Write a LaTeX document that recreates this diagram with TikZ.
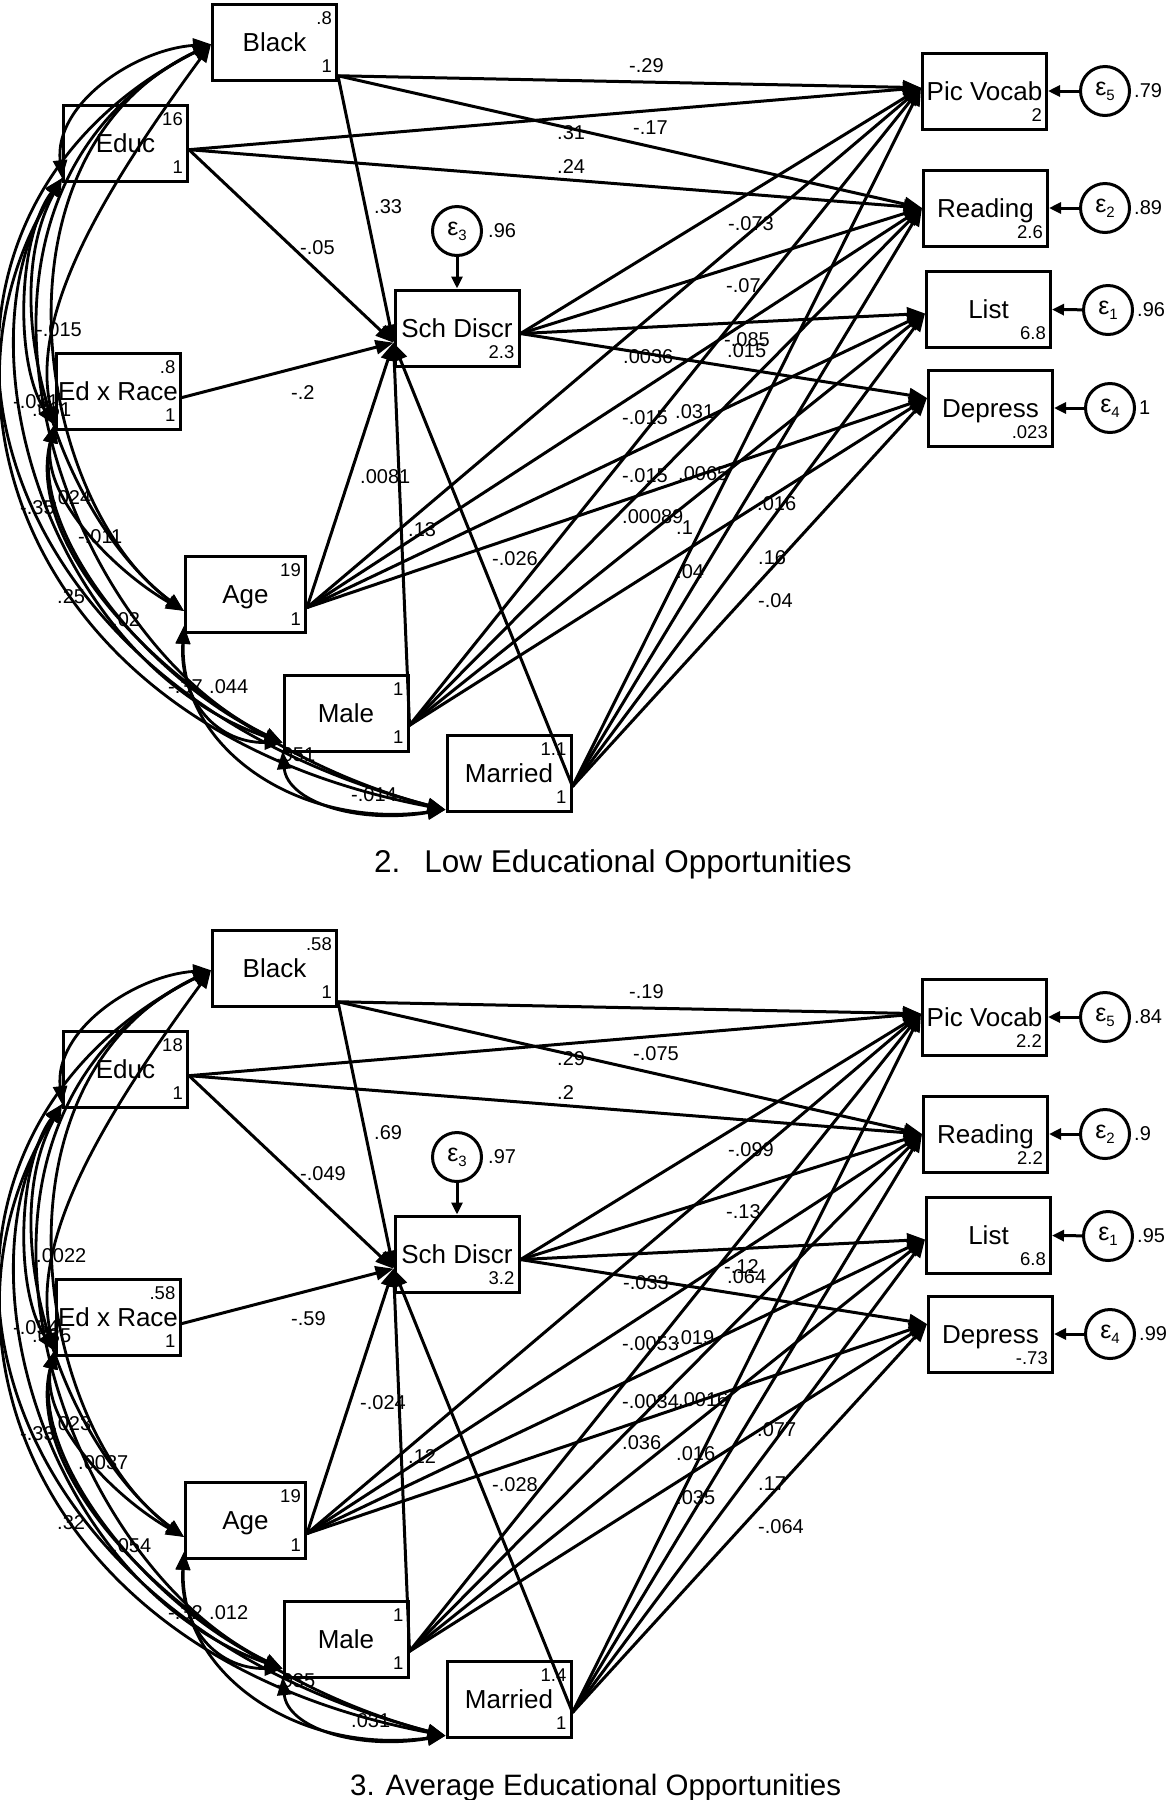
\documentclass[tikz,border=0pt]{standalone}
\usepackage{fontspec}
\setmainfont{Liberation Sans}
\usetikzlibrary{arrows.meta}
\tikzset{
  box/.style={draw, line width=3pt, minimum width=124pt, minimum height=76pt, inner sep=0pt,
    text height=18.6pt, text depth=0pt, font=\fontsize{26}{28}\selectfont},
  errc/.style={draw, circle, line width=3pt, minimum size=49pt, inner sep=0pt, font=\fontsize{25}{28}\selectfont},
  num/.style={font=\fontsize{18.5}{20}\selectfont, inner sep=0pt},
  lbl/.style={font=\fontsize{20}{22}\selectfont, inner sep=0pt, anchor=west},
  pth/.style={line width=3pt, -{Triangle[length=18pt,width=14pt]}},
  earr/.style={line width=3pt, -{Triangle[length=12pt,width=11pt]}},
  cov/.style={line width=2.8pt, {Triangle[length=18pt,width=14pt]}-{Triangle[length=18pt,width=14pt]}},
}
\newcommand\pick[2]{\ifnum\pnl=1 #1\else #2\fi}
\newcommand\epsl[1]{ε\raisebox{-5pt}{\fontsize{15}{15}\selectfont #1}}
\newcommand\tnum[2]{\node[num,anchor=east] (#1-tr) at ([xshift=-6pt,yshift=-15.5pt]#1.north east) {#2};}
\newcommand\bnum[2]{\node[num,anchor=east] (#1-br) at ([xshift=-6pt,yshift=15pt]#1.south east) {#2};}
\newcommand\drawpanel{%
  % boxes
  \node[box] (black\pnl) at (274.5,42) {Black};
  \node[box] (educ\pnl) at (125.5,143) {Educ};
  \node[box] (edx\pnl) at (118,391) {Ed x Race};
  \node[box] (sd\pnl) at (457,328) {Sch Discr};
  \node[box, minimum width=120pt] (age\pnl) at (245.5,594.5) {Age};
  \node[box] (male\pnl) at (346,713) {Male};
  \node[box] (married\pnl) at (509,773) {Married};
  \node[box] (pv\pnl) at (984.5,91) {Pic Vocab};
  \node[box] (rd\pnl) at (985.5,208) {Reading};
  \node[box] (list\pnl) at (988.5,309) {List};
  \node[box] (dep\pnl) at (990.5,408) {Depress};
  % error terms
  \node[errc] (ethree\pnl) at (457,231) {\epsl{3}};
  \node[errc] (efive\pnl) at (1105,91) {\epsl{5}};
  \node[errc] (etwo\pnl) at (1105,208) {\epsl{2}};
  \node[errc] (eone\pnl) at (1108,310) {\epsl{1}};
  \node[errc] (efour\pnl) at (1110,408) {\epsl{4}};
  \node[lbl,anchor=west] (ethree\pnl-v) at ([xshift=5pt]ethree\pnl.east) {\pick{.96}{.97}};
  \node[lbl,anchor=west] (efive\pnl-v) at ([xshift=3pt]efive\pnl.east) {\pick{.79}{.84}};
  \node[lbl,anchor=west] (etwo\pnl-v) at ([xshift=3pt]etwo\pnl.east) {\pick{.89}{.9}};
  \node[lbl,anchor=west] (eone\pnl-v) at ([xshift=3pt]eone\pnl.east) {\pick{.96}{.95}};
  \node[lbl,anchor=west] (efour\pnl-v) at ([xshift=3pt]efour\pnl.east) {\pick{1}{.99}};
  % corner numbers
  \tnum{black\pnl}{\pick{.8}{.58}}\bnum{black\pnl}{1}
  \tnum{educ\pnl}{\pick{16}{18}}\bnum{educ\pnl}{1}
  \tnum{edx\pnl}{\pick{.8}{.58}}\bnum{edx\pnl}{1}
  \tnum{age\pnl}{19}\bnum{age\pnl}{1}
  \tnum{male\pnl}{1}\bnum{male\pnl}{1}
  \tnum{married\pnl}{\pick{1.1}{1.4}}\bnum{married\pnl}{1}
  \bnum{sd\pnl}{\pick{2.3}{3.2}}
  \bnum{pv\pnl}{\pick{2}{2.2}}
  \bnum{rd\pnl}{\pick{2.6}{2.2}}
  \bnum{list\pnl}{6.8}
  \bnum{dep\pnl}{\pick{.023}{-.73}}
  % error arrows
  \draw[earr] (ethree\pnl) -- (sd\pnl);
  \draw[earr] (efive\pnl) -- (pv\pnl);
  \draw[earr] (etwo\pnl) -- (rd\pnl);
  \draw[earr] (eone\pnl) -- (list\pnl);
  \draw[earr] (efour\pnl) -- (dep\pnl);
  % structural paths
  \foreach \s/\sa in {black/332, educ/354}
    \foreach \t/\ta in {pv/177, rd/180, sd/193}
      \draw[pth] (\s\pnl.\sa) -- (\t\pnl.\ta);
  \draw[pth] (edx\pnl.354) -- (sd\pnl.193);
  \foreach \s/\sa in {age/348, male/349, married/348}
    \foreach \t/\ta in {sd/193, pv/177, rd/180, list/184, dep/171}
      \draw[pth] (\s\pnl.\sa) -- (\t\pnl.\ta);
  \foreach \t/\ta in {pv/177, rd/180, list/184, dep/171}
    \draw[pth] (sd\pnl.355.5) -- (\t\pnl.\ta);
  % covariances
  \draw[cov] (black\pnl.182) .. controls +(-75,5) and +(-8,-75) .. (educ\pnl.209);
  \draw[cov] (black\pnl.182) .. controls +(-110,150) and +(-25,-110) .. (edx\pnl.208);
  \draw[cov] (black\pnl.182) .. controls +(-230,110) and +(-150,-110) .. (age\pnl.195);
  \draw[cov] (black\pnl.182) .. controls +(-300,150) and +(-230,-110) .. (male\pnl.205);
  \draw[cov] (black\pnl.182) .. controls +(-340,170) and +(-500,-130) .. (married\pnl.210);
  \draw[cov] (educ\pnl.209) .. controls +(-45,60) and +(-40,-60) .. (edx\pnl.208);
  \draw[cov] (educ\pnl.209) .. controls +(-70,130) and +(-120,-90) .. (age\pnl.195);
  \draw[cov] (educ\pnl.209) .. controls +(-110,170) and +(-230,-80) .. (male\pnl.205);
  \draw[cov] (educ\pnl.209) .. controls +(-140,220) and +(-420,-80) .. (married\pnl.210);
  \draw[cov] (edx\pnl.208) .. controls +(-15,70) and +(-70,-40) .. (age\pnl.195);
  \draw[cov] (edx\pnl.208) .. controls +(-25,110) and +(-130,-60) .. (male\pnl.205);
  \draw[cov] (edx\pnl.208) .. controls +(-35,140) and +(-230,-60) .. (married\pnl.210);
  \draw[cov] (age\pnl.207) .. controls +(-5,70) and +(-70,0) .. (male\pnl.205);
  \draw[cov] (age\pnl.207) .. controls +(-5,120) and +(-150,20) .. (married\pnl.210);
  \draw[cov] (male\pnl.211) .. controls +(5,50) and +(-90,15) .. (married\pnl.210);
  % path labels (left edge x, centre y)
  \foreach \x/\y/\a/\b [count=\i] in {
    629/66/-.29/-.19, 557/133/.31/.29, 633/128/-.17/-.075, 557/167/.24/.2,
    374/207/.33/.69, 300/248/-.05/-.049, 291/393/-.2/-.59, 728/224/-.073/-.099,
    726/286/-.07/-.13, 724/340/-.085/-.12, 727/351/.015/.064, 623/357/.0036/-.033,
    622/418/-.015/-.0053, 675/412/.031/.019, 622/476/-.015/-.0034, 678/474/.0065/.0016,
    622/517/.00089/.036, 676/528/.1/.016, 757/504/.016/.077, 758/558/.16/.17,
    676/572/.04/.035, 758/601/-.04/-.064, 360/477/.0081/-.024, 408/530/.13/.12,
    492/559/-.026/-.028}
    \node[lbl] (pl\pnl-\i) at (\x,\y) {\pick{\a}{\b}};
  % covariance labels
  \foreach \x/\y/\a/\b [count=\i] in {
    36/330/-.015/.0022, 13/402/-.031/-.054, 32/410/.061/.035, 20/508/-.35/-.33,
    52/498/.024/.023, 78/537/-.011/.0037, 57/597/.25/.32, 112/620/.02/.054,
    168/687/-.37/-.32, 209/687/.044/.012, 276/755/.051/.035, 351/795/-.014/.031}
    \node[lbl] (cl\pnl-\i) at (\x,\y) {\pick{\a}{\b}};
}
\begin{document}
\begin{tikzpicture}[x=1pt,y=-1pt]
  \fill[white] (0,0) rectangle (1166,1800);
  \useasboundingbox (0,0) rectangle (1166,1800);
  \def\pnl{1}
  \drawpanel
  \begin{scope}[yshift=-926pt]
    \def\pnl{2}
    \drawpanel
  \end{scope}
  \node[font=\fontsize{31.5}{36}\selectfont, anchor=base west, inner sep=0pt] (titleA) at (374,872)
    {2.\hspace{24pt}Low Educational Opportunities};
  \node[font=\fontsize{29.5}{33}\selectfont, anchor=base west, inner sep=0pt] (titleB) at (350,1795)
    {3. Average Educational Opportunities};
\end{tikzpicture}
\end{document}
